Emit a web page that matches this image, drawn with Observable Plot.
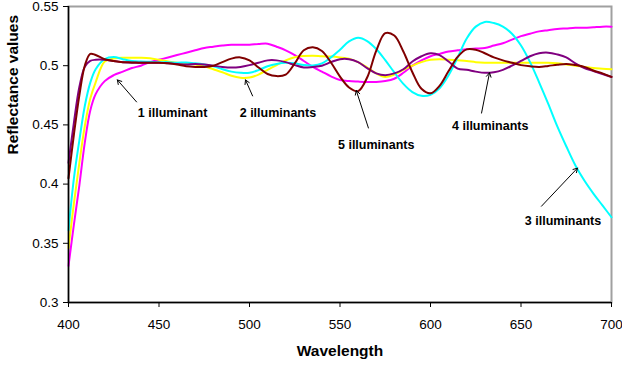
<!DOCTYPE html>
<html>
<head>
<meta charset="utf-8">
<script src="https://cdn.jsdelivr.net/npm/d3@7"></script>
<script src="https://cdn.jsdelivr.net/npm/@observablehq/plot@0.6"></script>
<style>
  html, body { margin: 0; padding: 0; background: #fff; }
  #chart { width: 622px; height: 372px; }
</style>
</head>
<body>
<div id="chart"></div>
<script>
const wavelengths = [400,403,406,409,412,415,
  420,425,430,435,440,445,450,455,460,465,470,475,480,485,490,495,500,505,510,515,
  520,525,530,535,540,545,550,555,560,565,570,575,580,585,590,595,600,605,610,615,
  620,625,630,635,640,645,650,655,660,665,670,675,680,685,690,695,700];

const oneIlluminant = [0.331,0.366,0.399,0.435,0.462,0.476,
  0.487,0.492,0.495,0.498,0.500,0.503,0.505,0.507,0.509,0.511,0.513,0.515,0.516,0.517,0.5177,0.5177,0.5177,0.5183,0.5186,0.516,
  0.513,0.509,0.504,0.499,0.495,0.491,0.488,0.487,0.4866,0.4863,0.4863,0.487,0.489,0.494,0.500,0.5045,0.508,0.510,0.512,0.513,
  0.514,0.5145,0.515,0.517,0.519,0.522,0.525,0.527,0.529,0.530,0.531,0.5315,0.532,0.532,0.5325,0.533,0.533];

const twoIlluminants = [0.346,0.384,0.418,0.449,0.472,0.486,
  0.5035,0.506,0.5067,0.5067,0.5067,0.5063,0.505,0.5035,0.5025,0.502,0.501,0.4995,0.497,0.4945,0.4915,0.4898,0.490,0.4925,0.4965,0.5005,
  0.5045,0.5072,0.5082,0.5085,0.508,0.5077,0.507,0.506,0.503,0.4985,0.4935,0.4905,0.4925,0.4965,0.500,0.503,0.505,0.5055,0.505,0.5045,
  0.504,0.503,0.5025,0.5025,0.5025,0.5025,0.5025,0.5025,0.5025,0.5025,0.502,0.501,0.500,0.499,0.498,0.4975,0.497];

const threeIlluminants = [0.361,0.405,0.437,0.466,0.4855,0.497,
  0.5055,0.5073,0.5055,0.504,0.5035,0.5033,0.503,0.503,0.5025,0.5027,0.502,0.501,0.4995,0.497,0.495,0.494,0.494,0.4963,0.4995,0.5015,
  0.5025,0.502,0.5005,0.5002,0.502,0.507,0.5135,0.5205,0.5236,0.5208,0.5141,0.5047,0.4943,0.4847,0.4777,0.4746,0.4755,0.481,0.492,0.507,
  0.523,0.533,0.537,0.536,0.533,0.527,0.517,0.503,0.486,0.468,0.449,0.432,0.416,0.403,0.392,0.382,0.372];

const fourIlluminants = [0.418,0.452,0.482,0.499,0.504,0.505,
  0.505,0.504,0.503,0.5025,0.5025,0.5025,0.5025,0.502,0.5015,0.501,0.5015,0.501,0.500,0.499,0.4985,0.499,0.5005,0.5025,0.5045,0.5045,
  0.503,0.5005,0.4985,0.499,0.500,0.503,0.5055,0.5055,0.503,0.498,0.4935,0.492,0.4935,0.497,0.5035,0.508,0.5105,0.509,0.5035,0.4975,
  0.4965,0.495,0.494,0.4945,0.4965,0.500,0.504,0.508,0.5105,0.511,0.5095,0.507,0.502,0.498,0.4955,0.493,0.4905];

const fiveIlluminants = [0.405,0.442,0.475,0.500,0.510,0.509,
  0.5055,0.504,0.503,0.5028,0.5025,0.5025,0.5025,0.502,0.501,0.4995,0.499,0.499,0.500,0.503,0.506,0.507,0.5045,0.4985,0.493,0.4912,
  0.4925,0.502,0.513,0.5155,0.5124,0.5027,0.4908,0.4816,0.4785,0.490,0.5125,0.5275,0.5255,0.512,0.4945,0.4805,0.4767,0.483,0.4955,0.5075,
  0.5138,0.5135,0.5105,0.507,0.5045,0.5025,0.5005,0.4995,0.499,0.4998,0.5008,0.5015,0.5005,0.499,0.496,0.4935,0.4905];

const seriesNames = ["1 illuminant","2 illuminants","3 illuminants","4 illuminants","5 illuminants"];
const seriesColors = ["#ff00ff","#ffff00","#00ffff","#800080","#800000"];
const seriesValues = [oneIlluminant, twoIlluminants, threeIlluminants, fourIlluminants, fiveIlluminants];

const xTicks = [400,450,500,550,600,650,700];
const yTicks = [0.3,0.35,0.4,0.45,0.5,0.55];
const yTickLabels = ["0.3","0.35","0.4","0.45","0.5","0.55"];

// annotation labels (data units)
const annLabels = ["1 illuminant","2 illuminants","5 illuminants","4 illuminants","3 illuminants"];
const annLabelX = [457.5,515.7,570,633,673.2];
const annLabelY = [0.460,0.460,0.433,0.449,0.369];
const annTailX = [437.6,501.7,565.7,628.2,661.3];
const annTailY = [0.4694,0.4745,0.4474,0.460,0.3813];
const annTipX = [427,497.8,559,632.6,681.2];
const annTipY = [0.488,0.488,0.479,0.494,0.4135];

const rows = [];
seriesNames.forEach((s, i) => {
  wavelengths.forEach((w, j) => rows.push({series: s, wl: w, v: seriesValues[i][j]}));
});
const annots = annLabels.map((l, i) => ({
  label: l, lx: annLabelX[i], ly: annLabelY[i],
  tx: annTailX[i], ty: annTailY[i], hx: annTipX[i], hy: annTipY[i]
}));

const chart = Plot.plot({
  width: 622,
  height: 372,
  marginLeft: 68,
  marginRight: 11,
  marginTop: 6,
  marginBottom: 70,
  style: {fontFamily: "'Liberation Sans', Arial, sans-serif", fontSize: "13.5px", background: "white", color: "black"},
  x: {domain: [400, 700]},
  y: {domain: [0.3, 0.55]},
  color: {domain: seriesNames, range: seriesColors},
  marks: [
    Plot.frame({stroke: "#a0a0a0", strokeWidth: 2}),
    Plot.line(rows, {x: "wl", y: "v", z: "series", stroke: "series", strokeWidth: 2, curve: "catmull-rom"}),
    Plot.arrow(annots, {x1: "tx", y1: "ty", x2: "hx", y2: "hy", stroke: "black", strokeWidth: 1, headLength: 7}),
    Plot.text(annots, {x: "lx", y: "ly", text: "label", fontWeight: "bold", fontSize: 12.5, fill: "black"}),
    Plot.ruleX([400], {stroke: "black", strokeWidth: 1.5}),
    Plot.ruleY([0.3], {stroke: "black", strokeWidth: 1.5}),
    Plot.axisX({ticks: xTicks, tickSize: 5, tickPadding: 12, label: null, tickFormat: d => String(d)}),
    Plot.axisY({ticks: yTicks, tickSize: 5, tickPadding: 5, label: null, tickFormat: (d, i) => yTickLabels[i]}),
    Plot.text(["Wavelength"], {text: d => d, frameAnchor: "bottom", dy: 53, fontWeight: "bold", fontSize: 15.5, fill: "black"}),
    Plot.text(["Reflectance values"], {text: d => d, frameAnchor: "left", dx: -55, rotate: -90, fontWeight: "bold", fontSize: 15.5, fill: "black"})
  ]
});
document.getElementById("chart").appendChild(chart);
</script>
</body>
</html>
